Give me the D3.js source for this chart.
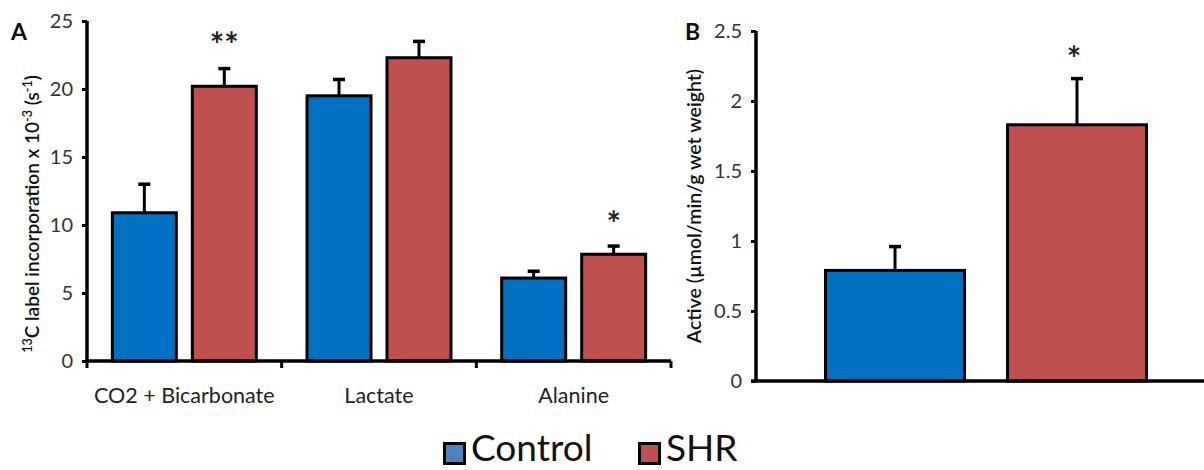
<!DOCTYPE html>
<html>
<head>
<meta charset="utf-8">
<script src="https://cdn.jsdelivr.net/npm/d3@7"></script>
<style>
  html, body { margin: 0; padding: 0; background: #fff; }
  svg { display: block; font-family: Lato, "Open Sans", sans-serif; }
</style>
</head>
<body>
<svg id="chart" width="1204" height="470"></svg>
<script>
// Panel A: 13C label incorporation by metabolite
const categoriesA = ["CO2 + Bicarbonate", "Lactate", "Alanine"];
const seriesNames = ["Control", "SHR"];
const controlA = [10.9, 19.5, 6.1];
const controlErrA = [2.1, 1.2, 0.5];
const shrA = [20.2, 22.3, 7.85];
const shrErrA = [1.3, 1.2, 0.6];
const starsA = ["**", "", "*"];
const ticksA = [0, 5, 10, 15, 20, 25];

// Panel B: activity
const valuesB = [0.79, 1.83];
const errB = [0.17, 0.33];
const starsB = ["", "*"];
const ticksB = [0, 0.5, 1, 1.5, 2, 2.5];

const barColors = { Control: "#0070C0", SHR: "#C0504D" };
const legendColors = { Control: "#4F81BD", SHR: "#C0504D" };

const svg = d3.select("#chart");

function drawErr(g, x, yTop, yErr) {
  g.append("line").attr("x1", x).attr("x2", x).attr("y1", yTop).attr("y2", yErr)
    .attr("stroke", "#000").attr("stroke-width", 3);
  g.append("line").attr("x1", x - 6).attr("x2", x + 6).attr("y1", yErr).attr("y2", yErr)
    .attr("stroke", "#000").attr("stroke-width", 3.5);
}

// ---------- Panel A ----------
const yA = d3.scaleLinear().domain([0, 25]).range([361, 21]);
const xA = d3.scaleBand().domain(categoriesA).range([87, 671]).padding(0);
const xInner = d3.scaleBand().domain(seriesNames).range([0, xA.bandwidth()])
  .paddingInner(0.2).paddingOuter(0.317);

const gA = svg.append("g");
const rowsA = categoriesA.map((c, i) => ({
  cat: c,
  vals: [
    { s: "Control", v: controlA[i], e: controlErrA[i], star: "" },
    { s: "SHR", v: shrA[i], e: shrErrA[i], star: starsA[i] }
  ]
}));

rowsA.forEach(r => {
  r.vals.forEach(d => {
    const x0 = xA(r.cat) + xInner(d.s);
    const cx = x0 + xInner.bandwidth() / 2;
    drawErr(gA, cx, yA(d.v), yA(d.v + d.e));
    gA.append("rect")
      .attr("x", x0).attr("y", yA(d.v))
      .attr("width", xInner.bandwidth()).attr("height", yA(0) - yA(d.v))
      .attr("fill", barColors[d.s]).attr("stroke", "#000").attr("stroke-width", 3);
    if (d.star) {
      gA.append("text").attr("x", cx).attr("y", yA(d.v + d.e) + 4 - (d.star.length > 1 ? 2 : 0))
        .attr("dy", -14)
        .attr("text-anchor", "middle").attr("font-size", 34).attr("font-weight", "bold")
        .attr("fill", "#222").text(d.star);
    }
  });
});

// y axis A
const axA = gA.append("g").attr("transform", "translate(87,0)")
  .call(d3.axisLeft(yA).tickValues(ticksA).tickSize(5).tickPadding(9).tickFormat(d3.format("d")));
axA.select(".domain").attr("stroke-width", 3.5).attr("d", `M0,${yA(25)}V${yA(0)}`);
axA.selectAll(".tick line").attr("stroke-width", 3);
axA.selectAll(".tick text").attr("font-size", 20).attr("fill", "#333").attr("font-family", "Lato, sans-serif");

// x axis A
const axXA = gA.append("g").attr("transform", `translate(0,${yA(0)})`);
axXA.append("line").attr("x1", 85).attr("x2", 671).attr("y1", 0).attr("y2", 0)
  .attr("stroke", "#000").attr("stroke-width", 3.5);
const boundaries = categoriesA.map(c => xA(c)).concat([xA(categoriesA[2]) + xA.bandwidth()]);
axXA.selectAll("line.tk").data(boundaries).enter().append("line").attr("class", "tk")
  .attr("x1", d => d).attr("x2", d => d).attr("y1", 0).attr("y2", 7)
  .attr("stroke", "#000").attr("stroke-width", 3);
axXA.selectAll("text").data(categoriesA).enter().append("text")
  .attr("x", d => xA(d) + xA.bandwidth() / 2).attr("y", 42)
  .attr("text-anchor", "middle").attr("font-size", 21.5).attr("fill", "#222")
  .text(d => d);

// y label A
const labA = gA.append("text")
  .attr("transform", "translate(39,214) rotate(-90)")
  .attr("text-anchor", "middle").attr("font-size", 19).attr("font-weight", 600).attr("fill", "#111");
labA.append("tspan").attr("font-size", 12.5).attr("dy", -7).text("13");
labA.append("tspan").attr("dy", 7).text("C label incorporation x 10");
labA.append("tspan").attr("font-size", 12.5).attr("dy", -7).text("-3");
labA.append("tspan").attr("dy", 7).text(" (s");
labA.append("tspan").attr("font-size", 12.5).attr("dy", -7).text("-1");
labA.append("tspan").attr("dy", 7).text(")");

gA.append("text").attr("x", 11).attr("y", 40).attr("font-size", 23).attr("font-weight", "bold")
  .attr("fill", "#111").text("A");

// ---------- Panel B ----------
const yB = d3.scaleLinear().domain([0, 2.5]).range([381, 31]);
const xB = d3.scaleBand().domain(seriesNames).range([756, 1216])
  .paddingInner(0.236).paddingOuter(0.382);
const gB = svg.append("g");

seriesNames.forEach((s, i) => {
  const x0 = xB(s);
  const cx = x0 + xB.bandwidth() / 2;
  drawErr(gB, cx, yB(valuesB[i]), yB(valuesB[i] + errB[i]));
  gB.append("rect")
    .attr("x", x0).attr("y", yB(valuesB[i]))
    .attr("width", xB.bandwidth()).attr("height", yB(0) - yB(valuesB[i]))
    .attr("fill", barColors[s]).attr("stroke", "#000").attr("stroke-width", 3);
  if (starsB[i]) {
    gB.append("text").attr("x", cx - 3).attr("y", yB(valuesB[i] + errB[i]) - 8)
      .attr("text-anchor", "middle").attr("font-size", 34).attr("font-weight", "bold")
      .attr("fill", "#222").text(starsB[i]);
  }
});

const axB = gB.append("g").attr("transform", "translate(756,0)")
  .call(d3.axisLeft(yB).tickValues(ticksB).tickSize(5).tickPadding(9).tickFormat(d3.format("")));
axB.select(".domain").attr("stroke-width", 3.5).attr("d", `M0,${yB(2.5)}V${yB(0)}`);
axB.selectAll(".tick line").attr("stroke-width", 3);
axB.selectAll(".tick text").attr("font-size", 20).attr("fill", "#333").attr("font-family", "Lato, sans-serif");

gB.append("line").attr("x1", 751).attr("x2", 1204).attr("y1", yB(0)).attr("y2", yB(0))
  .attr("stroke", "#000").attr("stroke-width", 3.5);

gB.append("text")
  .attr("transform", "translate(701,206) rotate(-90)")
  .attr("text-anchor", "middle").attr("font-size", 19.5).attr("font-weight", 600).attr("fill", "#111")
  .text("Active (\u00b5mol/min/g wet weight)");

gB.append("text").attr("x", 685).attr("y", 40).attr("font-size", 23).attr("font-weight", "bold")
  .attr("fill", "#111").text("B");

// ---------- Legend ----------
const legend = svg.append("g");
const legendX = { Control: 443, SHR: 638 };
seriesNames.forEach(s => {
  legend.append("rect").attr("x", legendX[s] + 1.5).attr("y", 443.5).attr("width", 20).attr("height", 20)
    .attr("fill", legendColors[s]).attr("stroke", "#000").attr("stroke-width", 3);
  legend.append("text").attr("x", legendX[s] + 28).attr("y", 461)
    .attr("font-size", 37).attr("fill", "#111").text(s);
});
</script>
</body>
</html>
